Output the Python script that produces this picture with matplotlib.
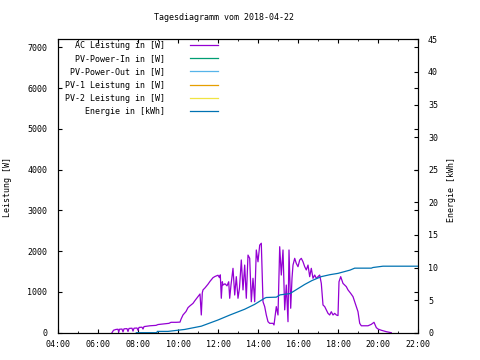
import matplotlib
matplotlib.use("Agg")
import matplotlib.pyplot as plt
from matplotlib.ticker import MultipleLocator, FuncFormatter

plt.rcParams['font.family'] = ['DejaVu Sans Mono']
plt.rcParams['font.size'] = 6

# --- data (hours of day) ---
ac_t = [6.685, 6.76, 6.885, 6.985, 7.02, 7.06, 7.185, 7.235, 7.285, 7.435, 7.485, 7.535,
        7.685, 7.735, 7.785, 7.935, 7.985, 8.035, 8.185, 8.235, 8.285, 8.485, 8.585, 8.735,
        8.885, 8.985, 9.085, 9.235, 9.335, 9.435, 9.535, 9.635, 9.885, 10.085, 10.135, 10.235,
        10.385, 10.485, 10.585, 10.735, 10.835, 10.985, 11.085, 11.15, 11.2, 11.235, 11.335,
        11.485, 11.585, 11.735, 11.835, 11.985, 12.06, 12.1, 12.15, 12.2, 12.235, 12.335,
        12.435, 12.52, 12.57, 12.635, 12.735, 12.82, 12.9, 12.985, 13.06, 13.15, 13.235,
        13.32, 13.4, 13.485, 13.57, 13.65, 13.735, 13.82, 13.9, 13.985, 14.07, 14.15, 14.235,
        14.32, 14.4, 14.485, 14.57, 14.735, 14.785, 14.9, 14.985, 15.07, 15.15, 15.235, 15.32,
        15.4, 15.485, 15.535, 15.62, 15.685, 15.735, 15.82, 15.9, 15.985, 16.07, 16.15, 16.235,
        16.32, 16.4, 16.485, 16.57, 16.65, 16.735, 16.82, 16.9, 16.985, 17.07, 17.15, 17.235,
        17.32, 17.4, 17.485, 17.57, 17.65, 17.735, 17.82, 17.9, 17.985, 18.035, 18.12, 18.235,
        18.32, 18.4, 18.485, 18.62, 18.735, 18.82, 18.9, 18.985, 19.07, 19.15, 19.485, 19.65,
        19.785, 19.9, 19.985, 20.15, 20.4, 20.65]
ac_w = [0, 60, 80, 85, 10, 85, 90, 20, 95, 100, 30, 105,
        110, 40, 110, 115, 60, 130, 135, 90, 150, 165, 170, 175,
        180, 200, 205, 210, 215, 225, 230, 255, 255, 260, 330, 435,
        520, 615, 660, 720, 790, 885, 950, 435, 980, 1050, 1100,
        1190, 1260, 1350, 1380, 1410, 1350, 1420, 845, 1250, 1170, 1200,
        1150, 1250, 845, 1170, 1580, 925, 1375, 845, 1100, 1785, 1050,
        1660, 845, 1905, 1825, 760, 1335, 760, 2030, 1740, 2150, 2195, 760,
        640, 435, 270, 230, 230, 190, 640, 435, 2110, 1415, 2030, 560,
        1170, 270, 2030, 600, 1335, 1660, 1825, 1700, 1620, 1785, 1825, 1740,
        1620, 1540, 1660, 1375, 1580, 1335, 1415, 1335, 1375, 1415, 1210, 680,
        640, 560, 475, 435, 515, 435, 475, 435, 420, 1250, 1375, 1210,
        1170, 1130, 1050, 965, 885, 760, 640, 515, 230, 170, 170, 205,
        255, 125, 90, 60, 25, 0]

en_t = [7.9, 8.935, 8.95, 9.485, 10.32, 11.15, 11.985, 12.57, 13.32, 13.82, 14.32, 14.4,
        14.9, 15.085, 15.585, 16.32, 16.685, 17.15, 17.585, 17.985, 18.585, 18.82, 19.65,
        19.735, 20.235, 22.0]
en_kwh = [0.0, 0.0, 0.2, 0.2, 0.5, 1.0, 1.95, 2.7, 3.6, 4.35, 5.3, 5.4,
          5.45, 5.8, 6.0, 7.4, 8.0, 8.6, 8.9, 9.1, 9.6, 9.9, 9.9,
          10.0, 10.2, 10.2]

labels = ["AC Leistung in [W]", "PV-Power-In in [W]", "PV-Power-Out in [W]",
          "PV-1 Leistung in [W]", "PV-2 Leistung in [W]", "Energie in [kWh]"]
colors = ["#9400D3", "#009E73", "#56B4E9", "#E69F00", "#F0E442", "#0072B2"]

fig = plt.figure(figsize=(4.8, 3.6), dpi=100)
ax = fig.add_axes([58.3 / 480, 1 - 332.7 / 360, 360 / 480, 293.4 / 360])
ax2 = ax.twinx()

h1, = ax.plot(ac_t, ac_w, color=colors[0], lw=0.9)
# PV series carry no data on this day
h2, = ax.plot([], [], color=colors[1], lw=0.9)
h3, = ax.plot([], [], color=colors[2], lw=0.9)
h4, = ax.plot([], [], color=colors[3], lw=0.9)
h5, = ax.plot([], [], color=colors[4], lw=0.9)
h6, = ax2.plot(en_t, en_kwh, color=colors[5], lw=0.9)

ax.set_xlim(4, 22)
ax.set_ylim(0, 7200)
ax2.set_ylim(0, 45)

ax.xaxis.set_major_locator(MultipleLocator(2))
ax.xaxis.set_minor_locator(MultipleLocator(1))
ax.xaxis.set_major_formatter(FuncFormatter(lambda v, p: "%02d:00" % int(round(v))))
ax.yaxis.set_major_locator(MultipleLocator(1000))
ax2.yaxis.set_major_locator(MultipleLocator(5))

ax.tick_params(axis='x', which='both', direction='in', top=True, pad=5)
ax.tick_params(axis='x', which='major', length=3)
ax.tick_params(axis='x', which='minor', length=1.5)
ax.tick_params(axis='y', direction='in', right=True, length=3, pad=8)
ax2.tick_params(axis='y', direction='in', length=3, pad=7)
for a in (ax, ax2):
    for s in a.spines.values():
        s.set_linewidth(0.8)

fig.text(223.5 / 480, 1 - 18 / 360, "Tagesdiagramm vom 2018-04-22", ha='center', va='center')
fig.text(8 / 480, 1 - 187 / 360, "Leistung [W]", rotation=90, ha='center', va='center')
fig.text(452 / 480, 1 - 189.5 / 360, "Energie [kWh]", rotation=90, ha='center', va='center')

ax2.legend([h1, h2, h3, h4, h5, h6], labels, loc='upper right',
           bbox_to_anchor=((218 - 58.3) / 360, 0.994), markerfirst=False, frameon=False,
           handlelength=3.4, handletextpad=3.0, labelspacing=0.5,
           borderpad=0, borderaxespad=0)

fig.savefig("out.png", dpi=100)
